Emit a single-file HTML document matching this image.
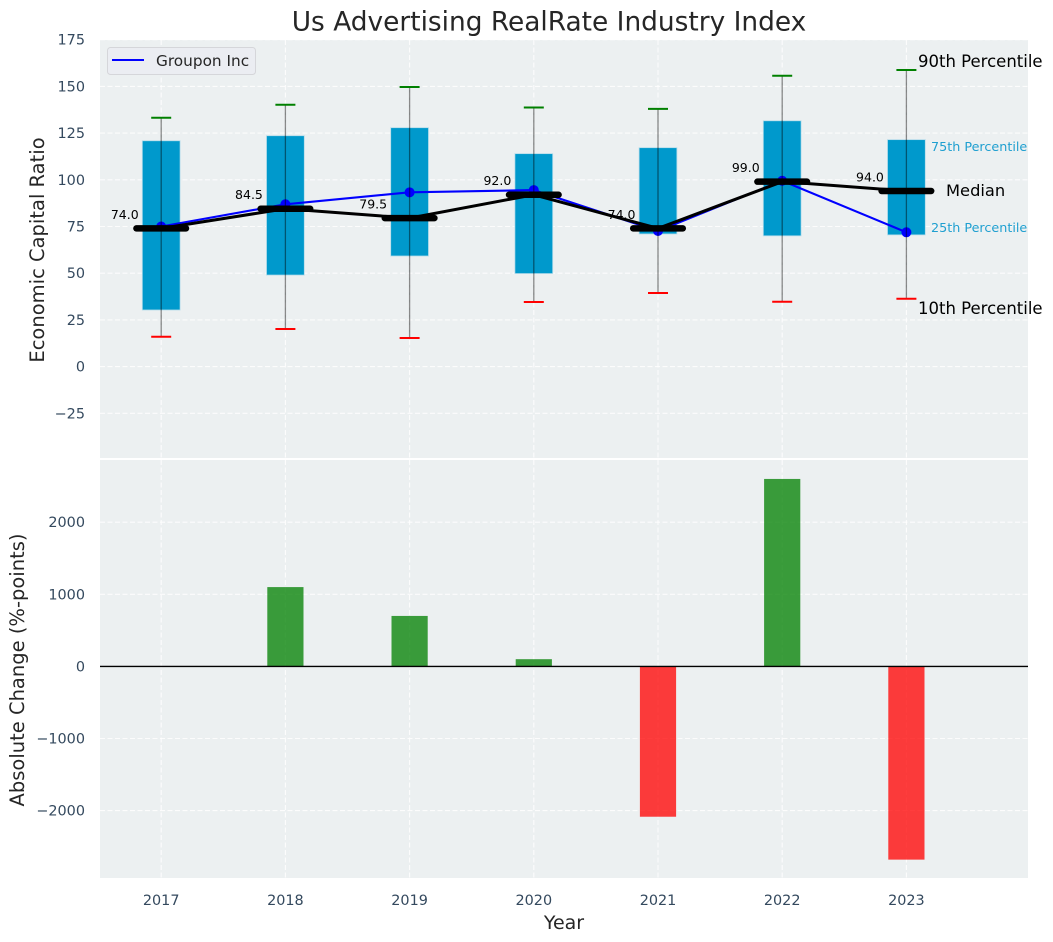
<!DOCTYPE html>
<html lang="en">
<head>
<meta charset="utf-8">
<title>Us Advertising RealRate Industry Index</title>
<style>
html,body{margin:0;padding:0;background:#fff}
svg{display:block;font-family:"DejaVu Sans","Liberation Sans",sans-serif}
</style>
</head>
<body>
<svg id="chart" xmlns="http://www.w3.org/2000/svg" width="1053" height="942" viewBox="0 0 1053 942">
  <rect width="1053" height="942" fill="#ffffff"/>
  <rect x="100" y="40" width="928" height="418" fill="#ecf0f1"/>
  <rect x="100" y="460" width="928" height="418" fill="#ecf0f1"/>
  <g id="grid"></g>
  <g id="bars"></g>
  <g id="boxes"></g>
  <g id="lines"></g>
  <g id="ticks"></g>
  <text x="549" y="30.5" text-anchor="middle" font-size="26.4px" fill="#262626">Us Advertising RealRate Industry Index</text>
  <text transform="translate(44,250) rotate(-90)" text-anchor="middle" font-size="19.5px" fill="#262626">Economic Capital Ratio</text>
  <text transform="translate(24,670) rotate(-90)" text-anchor="middle" font-size="19.5px" fill="#262626">Absolute Change (%-points)</text>
  <text x="564" y="929" text-anchor="middle" font-size="19px" fill="#262626">Year</text>
  <g>
    <rect x="107.5" y="47.5" width="148" height="27" rx="3" fill="#ebedf2" stroke="#d5d6da" stroke-width="1"/>
    <line x1="112" y1="60" x2="144" y2="60" stroke="#0000ff" stroke-width="2"/>
    <text x="156" y="66" font-size="15.3px" fill="#262626">Groupon Inc</text>
  </g>
  <text x="918" y="67" font-size="16.5px" fill="#000">90th Percentile</text>
  <text x="931" y="151" font-size="12.75px" fill="#1f9fd0">75th Percentile</text>
  <text x="946" y="196" font-size="16.3px" fill="#000">Median</text>
  <text x="931" y="232" font-size="12.75px" fill="#1f9fd0">25th Percentile</text>
  <text x="918" y="314" font-size="16.5px" fill="#000">10th Percentile</text>
</svg>
<script>
const years = [2017, 2018, 2019, 2020, 2021, 2022, 2023];
const p90 = [133.2, 140.2, 149.7, 138.7, 138, 155.7, 158.8];
const p75 = [120.9, 123.6, 127.9, 114, 117.2, 131.6, 121.5];
const medians = [74, 84.5, 79.5, 92, 74, 99, 94];
const p25 = [30.3, 49, 59.2, 49.8, 71, 70, 70.5];
const p10 = [16, 20.1, 15.3, 34.6, 39.4, 34.7, 36.3];
const groupon = [75, 86.9, 93.3, 94.5, 72.6, 99.5, 71.9];
const changes = [0, 1100, 700, 100, -2085, 2600, -2680];
const topTicks = [175, 150, 125, 100, 75, 50, 25, 0, -25];
const bottomTicks = [2000, 1000, 0, -1000, -2000];

const NS = 'http://www.w3.org/2000/svg';
function xPos(v) { return 161.2 + (v - 2017) * 124.2; }
function yTop(v) { return 366.6 - v * 1.868; }
function yBottom(v) { return 666.4 - v * 0.0721; }
function fmtTick(v) { return v < 0 ? '\u2212' + Math.abs(v) : String(v); }
function make(parent, tag, attrs, text) {
  const el = document.createElementNS(NS, tag);
  for (const k in attrs) el.setAttribute(k, attrs[k]);
  if (text !== undefined) el.textContent = text;
  parent.appendChild(el);
  return el;
}
const grid = document.getElementById('grid');
const bars = document.getElementById('bars');
const boxes = document.getElementById('boxes');
const lines = document.getElementById('lines');
const ticks = document.getElementById('ticks');
const gridStyle = { stroke: '#ffffff', 'stroke-width': 1.1, 'stroke-dasharray': '5 2.5', opacity: 0.85 };

topTicks.forEach(function (t) {
  const y = yTop(t);
  const g = make(grid, 'line', Object.assign({ x1: 100, x2: 1028, y1: y, y2: y }, gridStyle));
  
  
  const l = make(ticks, 'text', { x: 85, y: y + 5, 'text-anchor': 'end', 'font-size': '14.4px', fill: '#34495e' }, fmtTick(t));
  
  
});
bottomTicks.forEach(function (t) {
  const y = yBottom(t);
  const g = make(grid, 'line', Object.assign({ x1: 100, x2: 1028, y1: y, y2: y }, gridStyle));
  
  
  const l = make(ticks, 'text', { x: 85, y: y + 5, 'text-anchor': 'end', 'font-size': '14.4px', fill: '#34495e' }, fmtTick(t));
  
  
});
years.forEach(function (yr) {
  const x = xPos(yr);
  const g1 = make(grid, 'line', Object.assign({ x1: x, x2: x, y1: 40, y2: 458 }, gridStyle));
  
  
  const g2 = make(grid, 'line', Object.assign({ x1: x, x2: x, y1: 460, y2: 878 }, gridStyle));
  
  
  const l = make(ticks, 'text', { x: x, y: 905, 'text-anchor': 'middle', 'font-size': '14.4px', fill: '#34495e' }, String(yr));
  
  
});

const halfBar = 18.1;
years.forEach(function (yr, i) {
  const v = changes[i];
  if (v === 0) return;
  const y0 = yBottom(0), y1 = yBottom(v);
  const r = make(bars, 'rect', {
    x: xPos(yr) - halfBar, y: Math.min(y0, y1), width: halfBar * 2, height: Math.abs(y1 - y0),
    fill: v > 0 ? '#008000' : '#ff0000', 'fill-opacity': 0.76
  });
  
  
});
const zero = make(bars, 'line', { x1: 100, x2: 1028, y1: yBottom(0), y2: yBottom(0), stroke: '#000', 'stroke-width': 1.4 });



const halfBox = 18.9;
years.forEach(function (yr, i) {
  const x = xPos(yr);
  const b = make(boxes, 'rect', {
    x: x - halfBox, y: yTop(p75[i]), width: halfBox * 2, height: yTop(p25[i]) - yTop(p75[i]),
    fill: '#0099cc', stroke: '#b5dcea', 'stroke-width': 0.8
  });
  
  
});

function polyPoints(vals) {
  return years.map(function (yr, i) { return xPos(yr) + ',' + yTop(vals[i]); }).join(' ');
}
const blue = make(lines, 'polyline', { points: polyPoints(groupon), fill: 'none', stroke: '#0000ff', 'stroke-width': 2.1 });


years.forEach(function (yr, i) {
  const c = make(lines, 'circle', { cx: xPos(yr), cy: yTop(groupon[i]), r: 5, fill: '#0000ff' });
  
  
});
const medLine = make(lines, 'polyline', { points: polyPoints(medians), fill: 'none', stroke: '#000', 'stroke-width': 3 });



years.forEach(function (yr, i) {
  const x = xPos(yr);
  const m = make(lines, 'line', { x1: x - 24.8, x2: x + 24.8, y1: yTop(medians[i]), y2: yTop(medians[i]), stroke: '#000', 'stroke-width': 6.5, 'stroke-linecap': 'round' });
  
  
  const w = make(lines, 'line', { x1: x, x2: x, y1: yTop(p90[i]), y2: yTop(p10[i]), stroke: '#000', 'stroke-opacity': 0.45, 'stroke-width': 1.3 });
  
  
  const capTop = make(lines, 'line', { x1: x - 10, x2: x + 10, y1: yTop(p90[i]), y2: yTop(p90[i]), stroke: '#008000', 'stroke-width': 2 });
  
  
  const capBottom = make(lines, 'line', { x1: x - 10, x2: x + 10, y1: yTop(p10[i]), y2: yTop(p10[i]), stroke: '#ff0000', 'stroke-width': 2 });
  
  
  const t = make(lines, 'text', { x: x - 22.5, y: yTop(medians[i]) - 9.6, 'text-anchor': 'end', 'font-size': '12.5px', fill: '#000' }, medians[i].toFixed(1));
  
  
});
</script>
</body>
</html>
